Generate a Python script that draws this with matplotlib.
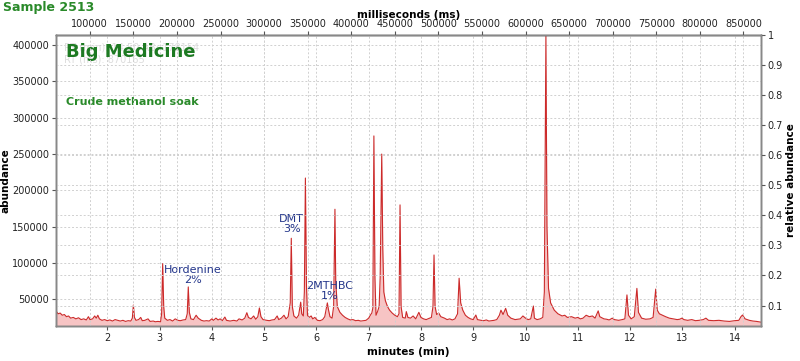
import matplotlib
matplotlib.use("Agg")
import matplotlib.pyplot as plt
from matplotlib.ticker import FuncFormatter

# chromatogram: retention time (min) and abundance
rt_min = [1.02, 1.06, 1.10, 1.14, 1.18, 1.22, 1.26, 1.30, 1.35, 1.40, 1.45, 1.50, 1.55, 1.60, 1.64, 1.67,
          1.72, 1.76, 1.79, 1.82, 1.85, 1.90, 1.95, 2.00, 2.05, 2.10, 2.15, 2.20, 2.25, 2.30, 2.35, 2.40,
          2.45, 2.48, 2.50, 2.52, 2.55, 2.60, 2.64, 2.67, 2.72, 2.78, 2.82, 2.88, 2.92, 2.97, 3.02, 3.04,
          3.06, 3.08, 3.10, 3.15, 3.20, 3.25, 3.30, 3.35, 3.40, 3.45, 3.50, 3.53, 3.55, 3.57, 3.60, 3.65,
          3.70, 3.74, 3.80, 3.85, 3.90, 3.95, 4.00, 4.03, 4.08, 4.12, 4.16, 4.20, 4.25, 4.28, 4.35, 4.42,
          4.48, 4.52, 4.58, 4.63, 4.67, 4.70, 4.75, 4.80, 4.84, 4.88, 4.91, 4.94, 4.98, 5.05, 5.10, 5.15,
          5.20, 5.25, 5.28, 5.33, 5.38, 5.42, 5.46, 5.50, 5.52, 5.54, 5.57, 5.62, 5.66, 5.70, 5.72, 5.75,
          5.77, 5.79, 5.81, 5.83, 5.86, 5.90, 5.93, 5.97, 6.02, 6.07, 6.12, 6.16, 6.19, 6.21, 6.23, 6.26,
          6.30, 6.33, 6.355, 6.37, 6.40, 6.45, 6.50, 6.55, 6.60, 6.65, 6.70, 6.75, 6.80, 6.85, 6.90, 6.95,
          7.00, 7.04, 7.06, 7.08, 7.10, 7.12, 7.14, 7.17, 7.20, 7.22, 7.25, 7.27, 7.29, 7.32, 7.36, 7.40,
          7.45, 7.50, 7.55, 7.58, 7.60, 7.62, 7.65, 7.70, 7.72, 7.75, 7.80, 7.85, 7.90, 7.96, 8.00, 8.05,
          8.10, 8.15, 8.20, 8.23, 8.25, 8.27, 8.30, 8.34, 8.38, 8.45, 8.50, 8.55, 8.60, 8.65, 8.70, 8.73,
          8.76, 8.80, 8.85, 8.90, 8.95, 9.00, 9.05, 9.08, 9.15, 9.20, 9.25, 9.30, 9.35, 9.40, 9.45, 9.50,
          9.53, 9.57, 9.62, 9.66, 9.72, 9.80, 9.85, 9.90, 9.95, 10.00, 10.05, 10.10, 10.15, 10.17, 10.22, 10.28,
          10.33, 10.36, 10.39, 10.41, 10.44, 10.48, 10.55, 10.62, 10.70, 10.75, 10.80, 10.88, 10.95, 11.00, 11.05, 11.10,
          11.16, 11.22, 11.28, 11.33, 11.39, 11.42, 11.50, 11.55, 11.60, 11.66, 11.70, 11.78, 11.85, 11.90, 11.94, 11.97,
          12.02, 12.08, 12.13, 12.16, 12.22, 12.30, 12.38, 12.44, 12.49, 12.52, 12.56, 12.62, 12.68, 12.75, 12.82, 12.90,
          12.95, 12.99, 13.03, 13.10, 13.18, 13.25, 13.32, 13.40, 13.45, 13.50, 13.60, 13.70, 13.80, 13.90, 14.00, 14.08,
          14.12, 14.15, 14.20, 14.28, 14.35, 14.42, 14.50]
abundance = [34000, 30000, 31000, 28000, 29000, 26000, 27000, 24000, 25000, 23000, 24500, 22000, 23000, 21500, 26000, 22000,
             23000, 27000, 24000, 28000, 23000, 21000, 22000, 20500, 21500, 20000, 22000, 21000, 20000, 21000, 19500, 20500,
             20000, 24000, 42000, 25000, 21000, 22000, 25000, 20500, 21000, 23000, 19500, 20000, 19000, 19500, 19000, 30000,
             99000, 40000, 24000, 21000, 22000, 20000, 23000, 21000, 20500, 21500, 22000, 30000, 67000, 32000, 23000, 22000,
             28000, 24000, 21000, 20000, 20500, 20000, 23000, 21000, 24000, 21500, 23000, 20500, 25500, 21000, 20000, 21000,
             20000, 23000, 21500, 24000, 31500, 25000, 23000, 27000, 22500, 26000, 38000, 26000, 22000, 21000, 20500, 21500,
             22000, 27000, 22000, 24000, 28000, 23000, 26000, 45000, 134000, 40000, 27000, 24000, 28000, 46000, 30000, 27000,
             60000, 217000, 70000, 28000, 25000, 27000, 23000, 25000, 21000, 20500, 22000, 26000, 37000, 45000, 36000, 26000,
             24000, 40000, 174000, 75000, 40000, 32000, 28000, 25000, 23000, 21500, 22000, 20500, 21000, 20000, 20500, 21000,
             24000, 29000, 31000, 38000, 275000, 80000, 28000, 33000, 40000, 80000, 250000, 120000, 60000, 48000, 40000, 35000,
             31000, 28000, 26000, 30000, 180000, 40000, 25000, 24000, 33000, 25000, 24000, 27000, 23000, 32000, 25000, 23000,
             22000, 23500, 25000, 40000, 111000, 40000, 29000, 31000, 26000, 24000, 22000, 23000, 21500, 23000, 30000, 79000,
             45000, 35000, 28000, 25000, 23000, 22000, 28300, 22000, 21000, 20500, 21500, 20000, 20500, 21000, 22000, 28000,
             35000, 29000, 37500, 28000, 24000, 22000, 22500, 23000, 27000, 24000, 22000, 23000, 40700, 24000, 22000, 23000,
             25000, 60000, 414000, 150000, 65000, 45000, 35000, 30000, 27000, 28000, 25000, 26000, 24000, 25000, 23000, 24000,
             28000, 26000, 27000, 24000, 34000, 26000, 23000, 22500, 21500, 24000, 22000, 21000, 22000, 23000, 56000, 28000,
             23000, 26000, 65000, 32000, 24000, 22500, 23000, 25000, 64000, 35000, 30000, 28000, 26000, 24000, 23000, 22000,
             22500, 24000, 22000, 21000, 22000, 20500, 21000, 22000, 24000, 21000, 20500, 21000, 20000, 19500, 20500, 21000,
             26000, 28300, 23000, 21000, 20000, 19500, 18500]

# labelled compounds: name, share, label centre (min, abundance)
peak_names = ["Hordenine", "DMT", "2MTHBC"]
peak_shares = ["2%", "3%", "1%"]
label_rt = [3.64, 5.53, 6.26]
label_ab = [83000, 153000, 61000]

y_min = 13200
y_max = max(abundance)

fig = plt.figure(figsize=(8, 3.61), dpi=100)
ax = fig.add_axes([0.07, 0.097, 0.881, 0.806])

ax.fill_between(rt_min, y_min, abundance, color="#f7c4c4", lw=0)
ax.plot(rt_min, abundance, color="#cc2a2a", lw=0.8)
ax.set_xlim(1.02, 14.5)
ax.set_ylim(y_min, y_max)
ax.set_xticks(range(2, 15))
ax.set_yticks(range(50000, 400001, 50000))

grid_kw = dict(color="#d0d0d0", ls=(0, (2, 2)), lw=0.7)
ax.grid(True, **grid_kw)
ax.set_axisbelow(True)

# top axis in milliseconds
axt = ax.twiny()
axt.set_xlim(1.02 * 60000, 14.5 * 60000)
axt.set_xticks(range(100000, 850001, 50000))
axt.xaxis.grid(True, **grid_kw)

# right axis as relative abundance
axr = ax.twinx()
axr.set_ylim(y_min / y_max, 1)
axr.set_yticks([0.1, 0.2, 0.3, 0.4, 0.5, 0.6, 0.7, 0.8, 0.9, 1.0])
axr.yaxis.set_major_formatter(FuncFormatter(lambda v, p: "%g" % v))
axr.yaxis.grid(True, **grid_kw)

for a in (ax, axt, axr):
    a.tick_params(labelsize=7, length=3, color="#555555", labelcolor="#222222", pad=2)
    for s in a.spines.values():
        s.set_color("#888888")
        s.set_linewidth(1.0)
axt.tick_params(pad=1)
axt.spines["top"].set_color("#444444")

ax.set_xlabel("minutes (min)", fontsize=7.5, fontweight="bold", labelpad=3)
ax.set_ylabel("abundance", fontsize=7.5, fontweight="bold", labelpad=1)
axr.set_ylabel("relative abundance", fontsize=7.5, fontweight="bold", labelpad=2)
axt.set_xlabel("milliseconds (ms)", fontsize=7.5, fontweight="bold", labelpad=1)

for name, share, x, y in zip(peak_names, peak_shares, label_rt, label_ab):
    ax.text(x, y, name + "\n" + share, ha="center", va="center", fontsize=8,
            color="#23358a", linespacing=1.0)

ax.text(0.012, 0.975, "RT (min): 14.50 AB: 178154\nRT (ms): 870165", transform=ax.transAxes,
        ha="left", va="top", fontsize=7, color="#dddddd", linespacing=1.3)
ax.text(0.014, 0.94, "Big Medicine", transform=ax.transAxes, ha="left", va="center",
        fontsize=13, fontweight="bold", color="#1d7a22")
ax.text(0.014, 0.77, "Crude methanol soak", transform=ax.transAxes, ha="left", va="center",
        fontsize=8, fontweight="bold", color="#2a8a2a")
fig.text(0.004, 0.978, "Sample 2513", ha="left", va="center", fontsize=9,
         fontweight="bold", color="#2a8a2a")

fig.savefig("out.png", dpi=100)
